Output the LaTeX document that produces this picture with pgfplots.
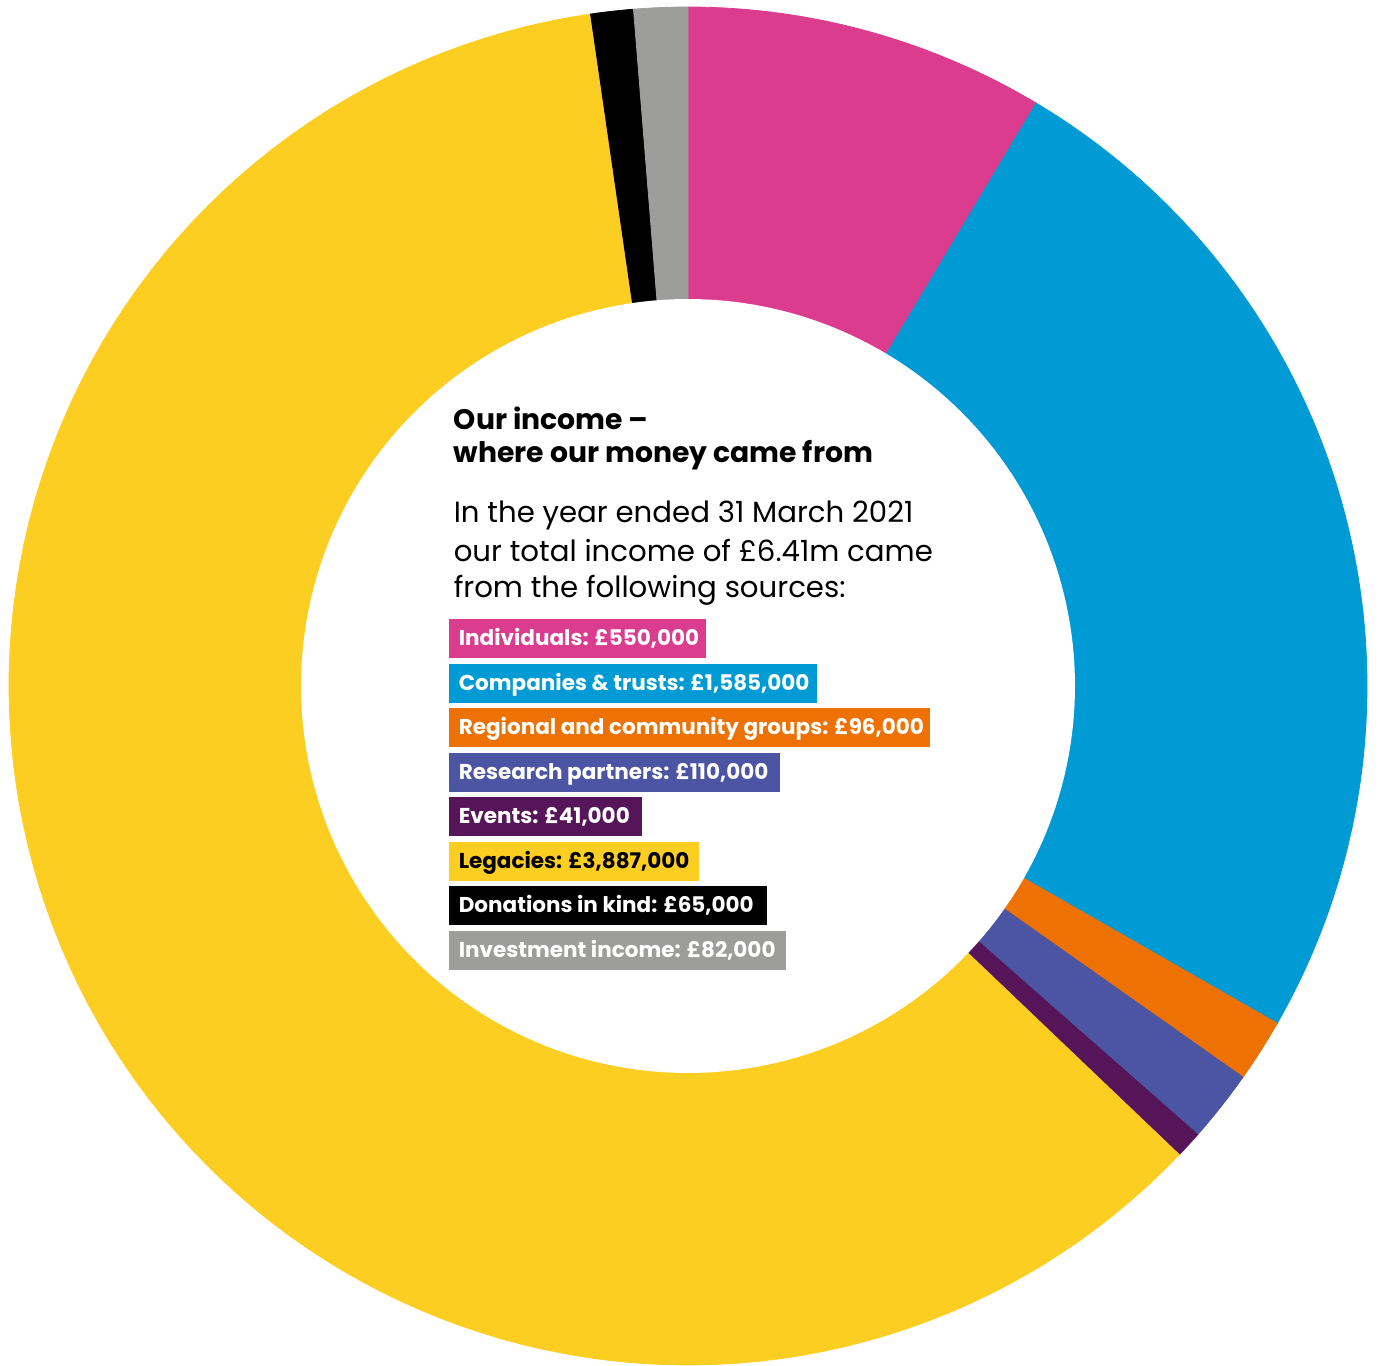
\documentclass[border=0pt]{standalone}
\usepackage{pgfplots}
\pgfplotsset{compat=1.18}
\usepackage{fontspec}
\setmainfont{Poppins}
\definecolor{cInd}{HTML}{DB3C8E}
\definecolor{cCom}{HTML}{009AD4}
\definecolor{cReg}{HTML}{EE7203}
\definecolor{cRes}{HTML}{4B55A3}
\definecolor{cEve}{HTML}{561558}
\definecolor{cLeg}{HTML}{FDCE22}
\definecolor{cDon}{HTML}{000000}
\definecolor{cInv}{HTML}{9D9D9C}
\def\total{6416}
\def\cum{0}
\newcommand\seg[2]{%
  \pgfmathsetmacro\aA{90-360*(\cum/\total)}%
  \pgfmathsetmacro\cumB{\cum+#1}%
  \pgfmathsetmacro\aB{90-360*(\cumB/\total)}%
  \addplot[fill=#2, draw=#2, line width=0.2pt, domain=\aB:\aA, samples=120]
    ({688+679*cos(x)},{679+679*sin(x)}) -- (axis cs:688,679) -- cycle;
  \global\let\cum\cumB
}
\newcommand\legfont{\fontsize{5.38}{6.5}\selectfont\bfseries}
\newcommand\lbox[5]{%
  \fill[#3] (axis cs:449,{1365-#1-19.5}) rectangle (axis cs:#2,{1365-#1+19.5});
  \node[anchor=base west, text=#4, font=\legfont, inner sep=0pt] at (axis cs:458,{1365-#1-7}) {#5};
}
\begin{document}
\begin{tikzpicture}
\begin{axis}[width=345pt, height=341.25pt, scale only axis,
  xmin=0, xmax=1380, ymin=0, ymax=1365, hide axis, clip=false]
% values in thousands of pounds
\seg{550}{cInd}
\seg{1585}{cCom}
\seg{96}{cReg}
\seg{110}{cRes}
\seg{41}{cEve}
\seg{3887}{cLeg}
\seg{65}{cDon}
\seg{82}{cInv}
\addplot[fill=white, draw=none, domain=0:360, samples=240]
  ({688+387*cos(x)},{679+387*sin(x)}) -- cycle;
\node[anchor=base west, inner sep=0pt, font=\fontsize{7.06}{8}\selectfont\bfseries] at (axis cs:453,{1365-430}) {Our income –};
\node[anchor=base west, inner sep=0pt, font=\fontsize{7.06}{8}\selectfont\bfseries] at (axis cs:453,{1365-463}) {where our money came from};
\node[anchor=base west, inner sep=0pt, font=\fontsize{7.3}{8}\selectfont] at (axis cs:453,{1365-523}) {In the year ended 31 March 2021};
\node[anchor=base west, inner sep=0pt, font=\fontsize{7.3}{8}\selectfont] at (axis cs:453,{1365-561}) {our total income of £6.41m came};
\node[anchor=base west, inner sep=0pt, font=\fontsize{7.3}{8}\selectfont] at (axis cs:453,{1365-597}) {from the following sources:};
\lbox{638.5}{706}{cInd}{white}{Individuals: £550,000}
\lbox{683}{817}{cCom}{white}{Companies \& trusts: £1,585,000}
\lbox{727.5}{930}{cReg}{white}{Regional and community groups: £96,000}
\lbox{772}{780}{cRes}{white}{Research partners: £110,000}
\lbox{816.5}{642}{cEve}{white}{Events: £41,000}
\lbox{861}{699}{cLeg}{black}{Legacies: £3,887,000}
\lbox{905.5}{767}{cDon}{white}{Donations in kind: £65,000}
\lbox{950}{786}{cInv}{white}{Investment income: £82,000}
\end{axis}
\path[use as bounding box] (current axis.south west) rectangle (current axis.north east);
\end{tikzpicture}
\end{document}
